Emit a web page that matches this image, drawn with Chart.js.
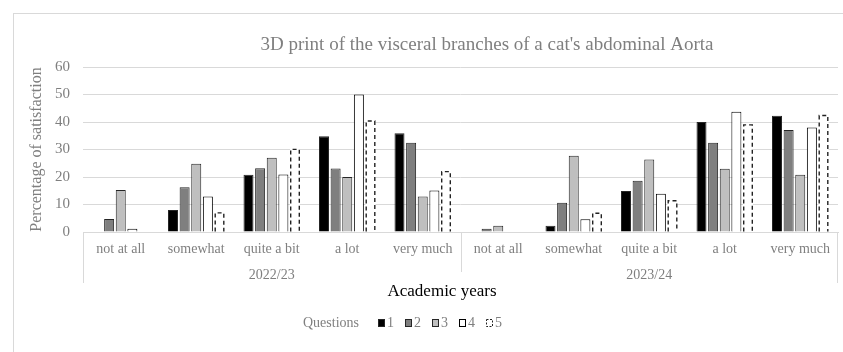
<!DOCTYPE html>
<html>
<head>
<meta charset="utf-8">
<script src="https://cdn.jsdelivr.net/npm/chart.js@4/dist/chart.umd.min.js"></script>
<style>
  html, body { margin: 0; padding: 0; background: #ffffff; }
  #wrap { width: 843px; height: 352px; position: relative; }
</style>
</head>
<body>
<div id="wrap"><canvas id="chart" width="843" height="352"></canvas></div>
<script>
// Satisfaction levels, repeated for each academic year
const levels = ['not at all', 'somewhat', 'quite a bit', 'a lot', 'very much'];
const years = ['2022/23', '2023/24'];
const categories = [...levels, ...levels];

// Percentage of satisfaction per question (2022/23 then 2023/24)
const question1 = [0, 8.0, 20.8, 34.8, 35.9,   0, 2.3, 14.9, 40.0, 42.3];
const question2 = [4.7, 16.3, 23.2, 23.1, 32.5,   1.2, 10.6, 18.6, 32.5, 37.1];
const question3 = [15.3, 24.8, 27.0, 20.0, 12.9,   2.3, 27.7, 26.4, 23.0, 20.8];
const question4 = [1.2, 12.9, 20.9, 50.0, 15.1,   0, 4.6, 13.9, 43.7, 38.0];
const question5 = [0, 7.2, 30.3, 40.6, 22.2,   0, 7.1, 11.6, 39.2, 42.6];
const questionNames = ['1', '2', '3', '4', '5'];

const yMin = 0, yMax = 60, yStep = 10;

const serif = '"Liberation Serif", "Times New Roman", serif';
const grey = '#7f7f7f';
const edge = '#262626';

const styles = [
  { bg: '#000000', border: edge, width: 1 },
  { bg: '#7f7f7f', border: edge, width: 1 },
  { bg: '#bfbfbf', border: edge, width: 1 },
  { bg: '#ffffff', border: '#000000', width: 1 },
  { bg: '#ffffff', border: '#222222', width: 0, dashed: true }
];
const seriesValues = [question1, question2, question3, question4, question5];

const datasets = seriesValues.map((vals, i) => ({
  label: questionNames[i],
  data: vals,
  backgroundColor: styles[i].bg,
  borderColor: styles[i].border,
  borderWidth: styles[i].width,
  categoryPercentage: 0.77,
  barPercentage: 0.86,
  xAxisID: 'x'
}));

// Dashed outline for question 5 bars (bar borders are filled, so stroke them here)
const dashedBars = {
  id: 'dashedBars',
  afterDatasetDraw(chart, args) {
    if (!styles[args.index].dashed) return;
    const ctx = chart.ctx;
    ctx.save();
    ctx.strokeStyle = styles[args.index].border;
    ctx.lineWidth = 1.4;
    ctx.setLineDash([4, 3]);
    args.meta.data.forEach(bar => {
      const p = bar.getProps(['x', 'y', 'base', 'width'], true);
      if (Math.abs(p.base - p.y) < 0.5) return;
      const l = p.x - p.width / 2 + 0.7, r = p.x + p.width / 2 - 0.7, t = p.y + 0.7;
      ctx.beginPath();
      ctx.moveTo(l, p.base);
      ctx.lineTo(l, t);
      ctx.lineTo(r, t);
      ctx.lineTo(r, p.base);
      ctx.stroke();
    });
    ctx.restore();
  }
};

// Frame, title, group separators, axis caption and legend
const decorations = {
  id: 'decorations',
  beforeDraw(chart) {
    const ctx = chart.ctx;
    ctx.save();
    ctx.fillStyle = '#ffffff';
    ctx.fillRect(0, 0, chart.width, chart.height);
    ctx.strokeStyle = '#d9d9d9';
    ctx.lineWidth = 1;
    ctx.strokeRect(13.5, 13.5, 1000, 1000);
    ctx.restore();
  },
  afterDraw(chart) {
    const ctx = chart.ctx;
    const area = chart.chartArea;
    const xs = chart.scales.x;
    ctx.save();

    // title
    ctx.fillStyle = grey;
    ctx.font = '19px ' + serif;
    ctx.textAlign = 'center';
    ctx.textBaseline = 'alphabetic';
    ctx.fillText("3D print of the visceral branches of a cat's abdominal Aorta", 487, 50);

    // separators of the two-level category axis
    ctx.strokeStyle = '#d9d9d9';
    ctx.lineWidth = 1;
    const half = levels.length;
    const mid = (xs.getPixelForValue(half - 1) + xs.getPixelForValue(half)) / 2;
    ctx.beginPath();
    ctx.moveTo(Math.round(area.left) + 0.5, area.bottom);
    ctx.lineTo(Math.round(area.left) + 0.5, area.bottom + 51);
    ctx.moveTo(Math.round(area.right) - 0.5, area.bottom);
    ctx.lineTo(Math.round(area.right) - 0.5, area.bottom + 51);
    ctx.moveTo(Math.round(mid) + 0.5, area.bottom);
    ctx.lineTo(Math.round(mid) + 0.5, area.bottom + 40);
    ctx.stroke();

    // axis caption
    ctx.fillStyle = '#000000';
    ctx.font = '17px ' + serif;
    ctx.fillText('Academic years', 442, 296);

    // legend
    ctx.font = '14px ' + serif;
    ctx.fillStyle = grey;
    ctx.textAlign = 'left';
    ctx.fillText('Questions', 303, 327);
    const boxX = [378, 405, 432, 459, 486];
    chart.data.datasets.forEach((ds, i) => {
      const bx = boxX[i], by = 319;
      ctx.fillStyle = ds.backgroundColor;
      ctx.fillRect(bx, by, 6, 7);
      ctx.strokeStyle = styles[i].border;
      ctx.lineWidth = 1;
      if (styles[i].dashed) ctx.setLineDash([2, 1.5]);
      ctx.strokeRect(bx + 0.5, by + 0.5, 6, 7);
      ctx.setLineDash([]);
      ctx.fillStyle = grey;
      ctx.fillText(ds.label, bx + 9, 327);
    });
    ctx.restore();
  }
};

new Chart(document.getElementById('chart'), {
  type: 'bar',
  data: { labels: categories, datasets },
  plugins: [dashedBars, decorations],
  options: {
    responsive: false,
    animation: false,
    devicePixelRatio: 1,
    layout: { padding: { top: 67, right: 5, left: 0, bottom: 60 } },
    plugins: {
      legend: { display: false },
      title: { display: false },
      tooltip: { enabled: false }
    },
    scales: {
      x: {
        type: 'category',
        position: 'bottom',
        offset: true,
        grid: { display: false },
        border: { display: true, color: '#d9d9d9' },
        ticks: {
          autoSkip: false, maxRotation: 0, minRotation: 0,
          color: grey, font: { family: serif, size: 14 }, padding: 1
        },
        afterFit(scale) { scale.height = 30; }
      },
      x2: {
        type: 'category',
        position: 'bottom',
        labels: years,
        offset: true,
        grid: { display: false, drawTicks: false },
        border: { display: false },
        ticks: {
          autoSkip: false, maxRotation: 0, minRotation: 0,
          color: grey, font: { family: serif, size: 14 }, padding: 5
        },
        afterFit(scale) { scale.height = 30; }
      },
      y: {
        min: yMin, max: yMax,
        ticks: {
          stepSize: yStep, color: grey,
          font: { family: serif, size: 15 }, padding: 13
        },
        grid: { color: '#d9d9d9', drawTicks: false },
        border: { display: false },
        title: {
          display: true, text: 'Percentage of satisfaction', color: grey,
          font: { family: serif, size: 16 }, padding: { top: 27, bottom: 0 }
        },
        afterFit(scale) { scale.width = 83; }
      }
    }
  }
});
</script>
</body>
</html>
